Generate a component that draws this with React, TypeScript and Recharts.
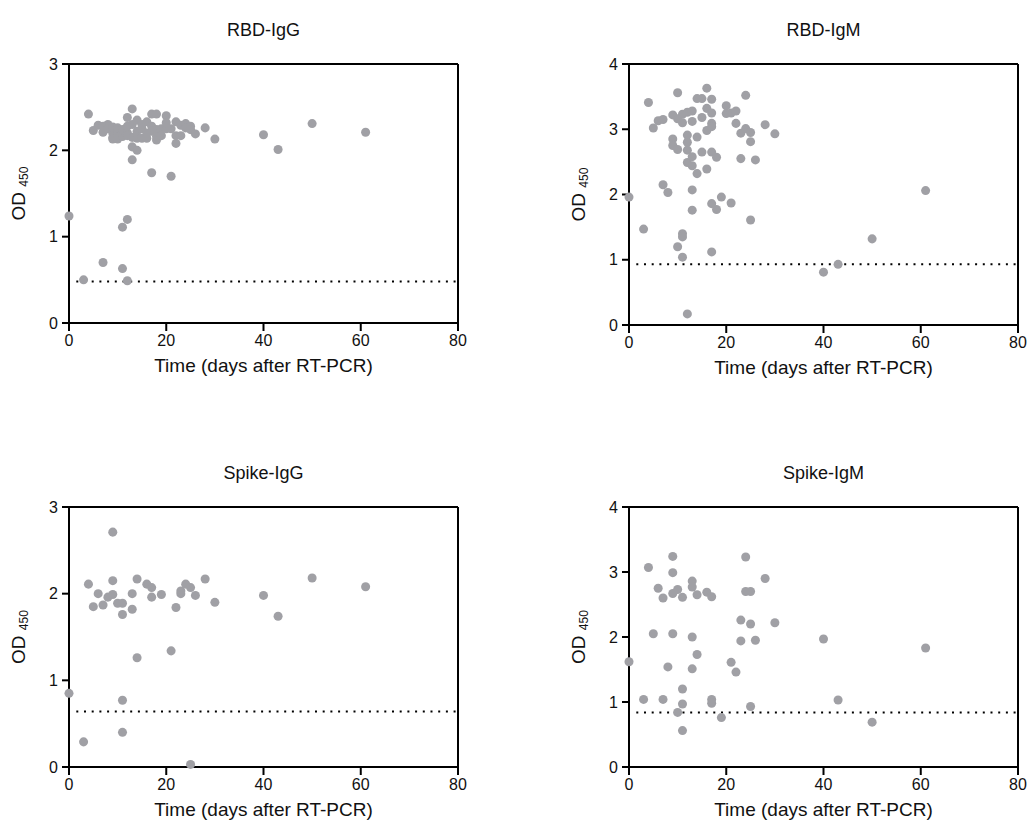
import { ScatterChart, Scatter, XAxis, YAxis, ReferenceLine } from "recharts";

// shared x ticks (days after RT-PCR)
const dayTicks = [0, 20, 40, 60, 80];

// RBD-IgG
const rbdIggDays = [0, 3, 7, 11, 12, 11, 12, 17, 21, 13, 40, 43, 50, 61, 4, 5, 6, 7, 7, 8, 8, 9, 9, 9, 9, 10, 10, 10, 10, 11, 11, 11, 12, 12, 12, 12, 13, 13, 13, 13, 14, 14, 14, 14, 15, 15, 15, 16, 16, 16, 17, 17, 17, 18, 18, 18, 18, 19, 19, 20, 20, 20, 21, 22, 22, 22, 23, 23, 24, 24, 25, 25, 26, 28, 30];
const rbdIggOd = [1.24, 0.5, 0.7, 0.63, 0.49, 1.11, 1.2, 1.74, 1.7, 1.89, 2.18, 2.01, 2.31, 2.21, 2.42, 2.23, 2.29, 2.21, 2.28, 2.3, 2.25, 2.2, 2.15, 2.27, 2.13, 2.18, 2.22, 2.13, 2.26, 2.2, 2.16, 2.24, 2.38, 2.2, 2.28, 2.17, 2.48, 2.15, 2.04, 2.3, 2.35, 2.0, 2.14, 2.22, 2.25, 2.14, 2.3, 2.33, 2.14, 2.2, 2.42, 2.28, 2.22, 2.42, 2.24, 2.12, 2.16, 2.25, 2.17, 2.4, 2.25, 2.32, 2.25, 2.33, 2.08, 2.17, 2.29, 2.17, 2.31, 2.26, 2.28, 2.24, 2.19, 2.26, 2.13];

// RBD-IgM
const rbdIgmDays = [0, 3, 4, 5, 6, 7, 7, 8, 9, 9, 9, 10, 10, 10, 10, 11, 11, 11, 11, 11, 12, 12, 12, 12, 12, 12, 13, 13, 13, 13, 13, 13, 14, 14, 14, 15, 15, 15, 16, 16, 16, 16, 17, 17, 17, 17, 17, 17, 17, 18, 18, 19, 20, 20, 21, 21, 22, 22, 23, 23, 24, 24, 25, 25, 25, 26, 28, 30, 40, 43, 50, 61];
const rbdIgmOd = [1.96, 1.47, 3.41, 3.02, 3.13, 3.15, 2.15, 2.03, 3.22, 2.85, 2.75, 3.56, 3.16, 2.69, 1.2, 3.1, 3.23, 1.4, 1.35, 1.04, 3.26, 2.91, 2.8, 2.68, 2.49, 0.17, 3.28, 3.12, 2.58, 2.44, 2.07, 1.76, 3.47, 2.88, 2.32, 3.47, 3.18, 2.65, 3.63, 3.32, 2.98, 2.39, 3.46, 3.25, 3.09, 3.04, 2.65, 1.86, 1.12, 2.57, 1.77, 1.96, 3.36, 3.24, 3.25, 1.87, 3.28, 3.09, 2.94, 2.55, 3.52, 3.01, 2.95, 2.81, 1.61, 2.53, 3.07, 2.93, 0.81, 0.93, 1.32, 2.06];

// Spike-IgG
const spikeIggDays = [0, 3, 4, 5, 6, 7, 8, 9, 9, 9, 10, 11, 11, 11, 11, 13, 13, 14, 14, 16, 17, 17, 19, 21, 22, 23, 23, 24, 25, 25, 26, 28, 30, 40, 43, 50, 61];
const spikeIggOd = [0.85, 0.29, 2.11, 1.85, 2.0, 1.87, 1.96, 2.71, 2.15, 1.99, 1.89, 1.89, 1.76, 0.77, 0.4, 2.0, 1.82, 2.17, 1.26, 2.11, 2.07, 1.96, 1.99, 1.34, 1.84, 2.0, 2.03, 2.11, 2.07, 0.03, 1.98, 2.17, 1.9, 1.98, 1.74, 2.18, 2.08];

// Spike-IgM
const spikeIgmDays = [0, 3, 4, 5, 6, 7, 7, 8, 9, 9, 9, 9, 10, 10, 11, 11, 11, 11, 13, 13, 13, 13, 14, 14, 16, 17, 17, 17, 19, 21, 22, 23, 23, 24, 24, 25, 25, 25, 26, 28, 30, 40, 43, 50, 61];
const spikeIgmOd = [1.62, 1.04, 3.07, 2.05, 2.75, 2.6, 1.04, 1.54, 3.24, 2.99, 2.67, 2.05, 2.73, 0.84, 2.61, 1.2, 0.97, 0.56, 2.86, 2.77, 2.0, 1.51, 2.65, 1.73, 2.69, 2.62, 1.04, 0.98, 0.76, 1.61, 1.46, 2.26, 1.94, 3.23, 2.7, 2.7, 2.2, 0.93, 1.95, 2.9, 2.22, 1.97, 1.03, 0.69, 1.83];

// cut-off lines
const cutoffs = [0.48, 0.93, 0.64, 0.84];
const titles = ["RBD-IgG", "RBD-IgM", "Spike-IgG", "Spike-IgM"];
const yMaxes = [3, 4, 3, 4];

const FONT = "'Liberation Sans', Arial, sans-serif";
const DOT = "#a0a0a5";
const INK = "#111";

const XLabel = ({ viewBox }: any) => (
  <text
    x={viewBox.x + viewBox.width / 2}
    y={viewBox.y + 49}
    textAnchor="middle"
    fontSize={19}
    fill={INK}
  >
    Time (days after RT-PCR)
  </text>
);

const OdLabel = ({ viewBox }: any) => {
  const cx = viewBox.x + 18;
  const cy = viewBox.y + viewBox.height / 2;
  return (
    <text
      x={cx}
      y={cy}
      transform={`rotate(-90 ${cx} ${cy})`}
      textAnchor="middle"
      dominantBaseline="central"
      fontSize={19}
      fill={INK}
    >
      OD <tspan fontSize={12} dy={6}>450</tspan>
    </text>
  );
};

interface PanelProps {
  title: string;
  days: number[];
  od: number[];
  yMax: number;
  cutoff: number;
  left: number;
  top: number;
  width: number;
  plotHeight: number;
}

function Panel({ title, days, od, yMax, cutoff, left, top, width, plotHeight }: PanelProps) {
  const data = days.map((d, i) => ({ day: d, od: od[i] }));
  const yTicks = Array.from({ length: yMax + 1 }, (_, i) => i);
  const height = 64 + plotHeight + 60;

  return (
    <div style={{ position: "absolute", left, top, width, height }}>
      <div
        style={{
          position: "absolute",
          left: 69,
          width: 389,
          top: 20,
          lineHeight: "20px",
          textAlign: "center",
          fontSize: 18,
          fontFamily: FONT,
          color: INK,
        }}
      >
        {title}
      </div>
      <ScatterChart
        width={width}
        height={height}
        margin={{ top: 64, right: width - 458, left: 0, bottom: 0 }}
        style={{ fontFamily: FONT }}
      >
        <XAxis
          type="number"
          dataKey="day"
          domain={[0, 80]}
          ticks={dayTicks}
          height={60}
          stroke="#000"
          strokeWidth={2}
          tickSize={8}
          tickMargin={4}
          tick={{ fill: INK, fontSize: 16 }}
          label={<XLabel />}
        />
        <YAxis
          type="number"
          dataKey="od"
          domain={[0, yMax]}
          ticks={yTicks}
          width={69}
          stroke="#000"
          strokeWidth={2}
          tickSize={7}
          tickMargin={4}
          tick={{ fill: INK, fontSize: 16 }}
          label={<OdLabel />}
        />
        <ReferenceLine y={yMax} stroke="#000" strokeWidth={2} />
        <ReferenceLine x={80} stroke="#000" strokeWidth={2} />
        <ReferenceLine
          segment={[
            { x: 1.5, y: cutoff },
            { x: 80, y: cutoff },
          ]}
          stroke="#000"
          strokeWidth={2}
          strokeDasharray="2 5.7"
        />
        <Scatter data={data} fill={DOT} isAnimationActive={false} />
      </ScatterChart>
    </div>
  );
}

export default function App() {
  const sets = [
    { days: rbdIggDays, od: rbdIggOd, left: 0, top: 0, width: 480, plotHeight: 259 },
    { days: rbdIgmDays, od: rbdIgmOd, left: 560, top: 0, width: 471, plotHeight: 261 },
    { days: spikeIggDays, od: spikeIggOd, left: 0, top: 443, width: 480, plotHeight: 260 },
    { days: spikeIgmDays, od: spikeIgmOd, left: 560, top: 443, width: 471, plotHeight: 260 },
  ];
  return (
    <div
      style={{
        position: "absolute",
        left: 0,
        top: 0,
        width: 1031,
        height: 836,
        background: "#fff",
        overflow: "hidden",
      }}
    >
      {sets.map((s, i) => (
        <Panel
          key={titles[i]}
          title={titles[i]}
          days={s.days}
          od={s.od}
          yMax={yMaxes[i]}
          cutoff={cutoffs[i]}
          left={s.left}
          top={s.top}
          width={s.width}
          plotHeight={s.plotHeight}
        />
      ))}
    </div>
  );
}
